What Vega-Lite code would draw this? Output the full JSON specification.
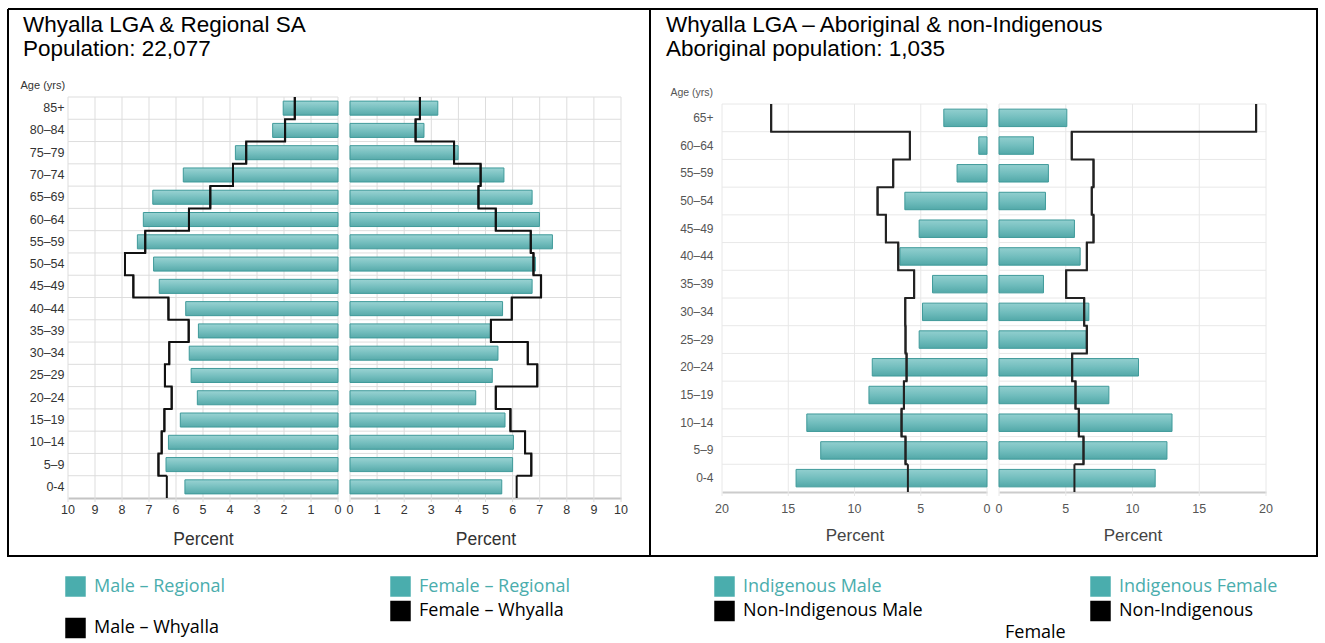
{
 "$schema": "https://vega.github.io/schema/vega-lite/v6.json",
 "background": "#ffffff",
 "padding": {"left": 7, "top": 8, "right": 0, "bottom": 0},
 "autosize": {"type": "pad"},
 "config": {"view": {"stroke": null}},
 "spacing": 0,
 "bounds": "flush",
 "resolve": {"scale": {"color": "independent", "x": "independent", "y": "independent"}, "legend": {"color": "independent"}},
 "datasets": {
  "reg": [
   {"age": "85+", "male_regional": 2.03, "male_whyalla": 1.60, "female_regional": 3.24, "female_whyalla": 2.58},
   {"age": "80–84", "male_regional": 2.42, "male_whyalla": 1.96, "female_regional": 2.73, "female_whyalla": 2.42},
   {"age": "75–79", "male_regional": 3.80, "male_whyalla": 3.40, "female_regional": 3.99, "female_whyalla": 3.84},
   {"age": "70–74", "male_regional": 5.73, "male_whyalla": 3.89, "female_regional": 5.68, "female_whyalla": 4.82},
   {"age": "65–69", "male_regional": 6.86, "male_whyalla": 4.73, "female_regional": 6.72, "female_whyalla": 4.74},
   {"age": "60–64", "male_regional": 7.21, "male_whyalla": 5.52, "female_regional": 6.99, "female_whyalla": 5.38},
   {"age": "55–59", "male_regional": 7.43, "male_whyalla": 7.14, "female_regional": 7.47, "female_whyalla": 6.67},
   {"age": "50–54", "male_regional": 6.83, "male_whyalla": 7.89, "female_regional": 6.84, "female_whyalla": 6.77},
   {"age": "45–49", "male_regional": 6.62, "male_whyalla": 7.58, "female_regional": 6.72, "female_whyalla": 7.05},
   {"age": "40–44", "male_regional": 5.64, "male_whyalla": 6.28, "female_regional": 5.63, "female_whyalla": 5.97},
   {"age": "35–39", "male_regional": 5.17, "male_whyalla": 5.53, "female_regional": 5.18, "female_whyalla": 5.20},
   {"age": "30–34", "male_regional": 5.51, "male_whyalla": 6.25, "female_regional": 5.46, "female_whyalla": 6.56},
   {"age": "25–29", "male_regional": 5.44, "male_whyalla": 6.41, "female_regional": 5.25, "female_whyalla": 6.91},
   {"age": "20–24", "male_regional": 5.21, "male_whyalla": 6.16, "female_regional": 4.64, "female_whyalla": 5.38},
   {"age": "15–19", "male_regional": 5.84, "male_whyalla": 6.43, "female_regional": 5.72, "female_whyalla": 5.92},
   {"age": "10–14", "male_regional": 6.28, "male_whyalla": 6.53, "female_regional": 6.03, "female_whyalla": 6.46},
   {"age": "5–9", "male_regional": 6.37, "male_whyalla": 6.65, "female_regional": 6.00, "female_whyalla": 6.69},
   {"age": "0-4", "male_regional": 5.67, "male_whyalla": 6.34, "female_regional": 5.60, "female_whyalla": 6.15}
  ],
  "ind": [
   {"age": "65+", "male_indigenous": 3.26, "male_non_indigenous": 16.29, "female_indigenous": 5.08, "female_non_indigenous": 19.26},
   {"age": "60–64", "male_indigenous": 0.62, "male_non_indigenous": 5.82, "female_indigenous": 2.58, "female_non_indigenous": 5.45},
   {"age": "55–59", "male_indigenous": 2.26, "male_non_indigenous": 7.08, "female_indigenous": 3.70, "female_non_indigenous": 7.08},
   {"age": "50–54", "male_indigenous": 6.20, "male_non_indigenous": 8.26, "female_indigenous": 3.48, "female_non_indigenous": 6.95},
   {"age": "45–49", "male_indigenous": 5.12, "male_non_indigenous": 7.63, "female_indigenous": 5.65, "female_non_indigenous": 7.08},
   {"age": "40–44", "male_indigenous": 6.57, "male_non_indigenous": 6.70, "female_indigenous": 6.08, "female_non_indigenous": 6.58},
   {"age": "35–39", "male_indigenous": 4.11, "male_non_indigenous": 5.50, "female_indigenous": 3.33, "female_non_indigenous": 5.03},
   {"age": "30–34", "male_indigenous": 4.87, "male_non_indigenous": 6.17, "female_indigenous": 6.73, "female_non_indigenous": 6.38},
   {"age": "25–29", "male_indigenous": 5.12, "male_non_indigenous": 6.15, "female_indigenous": 6.53, "female_non_indigenous": 6.58},
   {"age": "20–24", "male_indigenous": 8.66, "male_non_indigenous": 6.07, "female_indigenous": 10.45, "female_non_indigenous": 5.48},
   {"age": "15–19", "male_indigenous": 8.91, "male_non_indigenous": 6.27, "female_indigenous": 8.23, "female_non_indigenous": 5.73},
   {"age": "10–14", "male_indigenous": 13.60, "male_non_indigenous": 6.45, "female_indigenous": 12.96, "female_non_indigenous": 5.98},
   {"age": "5–9", "male_indigenous": 12.55, "male_non_indigenous": 6.15, "female_indigenous": 12.58, "female_non_indigenous": 6.33},
   {"age": "0-4", "male_indigenous": 14.41, "male_non_indigenous": 5.97, "female_indigenous": 11.70, "female_non_indigenous": 5.65}
  ],
  "ticks10": [{"t": 0}, {"t": 1}, {"t": 2}, {"t": 3}, {"t": 4}, {"t": 5}, {"t": 6}, {"t": 7}, {"t": 8}, {"t": 9}, {"t": 10}],
  "ticks20": [{"t": 0}, {"t": 5}, {"t": 10}, {"t": 15}, {"t": 20}]
 },
 "hconcat": [
  {
   "width": 336, "height": 547,
   "view": {"stroke": "#000000", "strokeWidth": 2, "strokeDash": [336, 547, 883, 0]},
   "title": {"text": ["Whyalla LGA & Regional SA", "Population: 22,077"], "anchor": "start", "frame": "group", "orient": "top", "baseline": "top", "offset": -51, "dx": 15, "font": "Liberation Sans", "fontSize": 22.5, "fontWeight": "normal", "color": "#000000", "lineHeight": 24},
   "data": {"name": "reg"},
   "layer": [
    {
     "data": {"name": "ticks10"},
     "mark": {"type": "rule", "color": "#dddddd", "strokeWidth": 1, "y2Offset": 4},
     "encoding": {
      "x": {"field": "t", "type": "quantitative", "scale": {"domain": [0, 10], "range": [330, 60], "nice": false}, "axis": {"orient": "bottom", "offset": -58, "grid": false, "domain": true, "domainColor": "#c4c4c4", "domainWidth": 2, "ticks": false, "labels": false, "title": "Percent", "titleFont": "'Liberation Sans Narrow', 'Liberation Sans', sans-serif", "titleFontSize": 17.5, "titleFontWeight": "normal", "titleColor": "#333333", "titlePadding": 32}},
      "y": {"datum": "85+", "type": "nominal", "bandPosition": 0, "scale": {"domain": ["85+","80–84","75–79","70–74","65–69","60–64","55–59","50–54","45–49","40–44","35–39","30–34","25–29","20–24","15–19","10–14","5–9","0-4"], "range": [88, 489], "paddingInner": 0, "paddingOuter": 0}},
      "y2": {"datum": "0-4", "bandPosition": 1}
     }
    },
    {
     "data": {"name": "ticks10"},
     "mark": {"type": "text", "dy": 12, "baseline": "middle", "align": "center", "font": "'Liberation Sans Narrow', 'Liberation Sans', sans-serif", "fontSize": 12.5, "color": "#333333"},
     "encoding": {
      "x": {"field": "t", "type": "quantitative"},
      "y": {"datum": "0-4", "type": "nominal", "bandPosition": 1},
      "text": {"field": "t", "type": "quantitative", "format": "d"}
     }
    },
    {
     "mark": {"type": "rule", "color": "#dddddd", "strokeWidth": 1},
     "encoding": {
      "y": {"field": "age", "type": "nominal", "bandPosition": 0},
      "x": {"datum": 0, "type": "quantitative"},
      "x2": {"datum": 10}
     }
    },
    {
     "mark": {"type": "bar", "height": {"band": 0.63}, "fill": {"gradient": "linear", "x1": 0, "y1": 0, "x2": 0, "y2": 1, "stops": [{"offset": 0, "color": "#9ad3d3"}, {"offset": 0.55, "color": "#74bebe"}, {"offset": 1, "color": "#57aaaa"}]}, "stroke": "#3f9a9a", "strokeWidth": 1},
     "encoding": {
      "x": {"field": "male_regional", "type": "quantitative"},
      "y": {"field": "age", "type": "nominal", "axis": {"orient": "left", "offset": -60, "ticks": false, "domain": false, "grid": false, "labelFont": "'Liberation Sans Narrow', 'Liberation Sans', sans-serif", "labelFontSize": 12.5, "labelColor": "#333333", "labelPadding": 4, "title": "Age (yrs)", "titleAngle": 0, "titleAlign": "left", "titleBaseline": "middle", "titleX": -48, "titleY": 76, "titleFont": "'Liberation Sans Narrow', 'Liberation Sans', sans-serif", "titleFontSize": 11, "titleFontWeight": "normal", "titleColor": "#333333"}}
     }
    },
    {
     "mark": {"type": "line", "interpolate": "step-before", "color": "#111111", "strokeWidth": 2},
     "encoding": {
      "x": {"field": "male_whyalla", "type": "quantitative"},
      "y": {"field": "age", "type": "nominal", "bandPosition": 0, "sort": ["85+","80–84","75–79","70–74","65–69","60–64","55–59","50–54","45–49","40–44","35–39","30–34","25–29","20–24","15–19","10–14","5–9","0-4"]}
     }
    },
    {
     "mark": {"type": "rule", "color": "#111111", "strokeWidth": 2},
     "encoding": {
      "x": {"field": "male_whyalla", "type": "quantitative"},
      "y": {"field": "age", "type": "nominal", "bandPosition": 0},
      "y2": {"field": "age", "bandPosition": 1}
     }
    },
    {
     "data": {"values": [{"s": "Male – Regional"}, {"s": "Male – Whyalla"}]},
     "mark": {"type": "square", "opacity": 0},
     "encoding": {
      "color": {"field": "s", "type": "nominal", "scale": {"domain": ["Male – Regional", "Male – Whyalla"], "range": ["#4aadad", "#000000"]},
       "legend": {"orient": "none", "legendX": 57, "legendY": 567, "direction": "vertical", "title": null, "symbolType": "square", "symbolSize": 420, "symbolOpacity": 1, "symbolStrokeWidth": 0, "labelFont": "Open Sans", "labelFontSize": 18, "labelOffset": 8, "rowPadding": 20.5, "padding": 0, "labelLimit": 400,
        "encode": {"labels": {"update": {"fill": {"signal": "datum.index === 0 ? '#4aadad' : '#000000'"}}}}}}
     }
    }
   ]
  },
  {
   "width": 306, "height": 547,
   "view": {"stroke": "#000000", "strokeWidth": 2, "strokeDash": [1159, 547]},
   "data": {"name": "reg"},
   "layer": [
    {
     "data": {"name": "ticks10"},
     "mark": {"type": "rule", "color": "#dddddd", "strokeWidth": 1, "y2Offset": 4},
     "encoding": {
      "x": {"field": "t", "type": "quantitative", "scale": {"domain": [0, 10], "range": [6, 277], "nice": false}, "axis": {"orient": "bottom", "offset": -58, "grid": false, "domain": true, "domainColor": "#c4c4c4", "domainWidth": 2, "ticks": false, "labels": false, "title": "Percent", "titleFont": "'Liberation Sans Narrow', 'Liberation Sans', sans-serif", "titleFontSize": 17.5, "titleFontWeight": "normal", "titleColor": "#333333", "titlePadding": 32}},
      "y": {"datum": "85+", "type": "nominal", "bandPosition": 0, "axis": null, "scale": {"domain": ["85+","80–84","75–79","70–74","65–69","60–64","55–59","50–54","45–49","40–44","35–39","30–34","25–29","20–24","15–19","10–14","5–9","0-4"], "range": [88, 489], "paddingInner": 0, "paddingOuter": 0}},
      "y2": {"datum": "0-4", "bandPosition": 1}
     }
    },
    {
     "data": {"name": "ticks10"},
     "mark": {"type": "text", "dy": 12, "baseline": "middle", "align": "center", "font": "'Liberation Sans Narrow', 'Liberation Sans', sans-serif", "fontSize": 12.5, "color": "#333333"},
     "encoding": {
      "x": {"field": "t", "type": "quantitative"},
      "y": {"datum": "0-4", "type": "nominal", "bandPosition": 1, "axis": null},
      "text": {"field": "t", "type": "quantitative", "format": "d"}
     }
    },
    {
     "mark": {"type": "rule", "color": "#dddddd", "strokeWidth": 1},
     "encoding": {
      "y": {"field": "age", "type": "nominal", "bandPosition": 0, "axis": null},
      "x": {"datum": 0, "type": "quantitative"},
      "x2": {"datum": 10}
     }
    },
    {
     "mark": {"type": "bar", "height": {"band": 0.63}, "fill": {"gradient": "linear", "x1": 0, "y1": 0, "x2": 0, "y2": 1, "stops": [{"offset": 0, "color": "#9ad3d3"}, {"offset": 0.55, "color": "#74bebe"}, {"offset": 1, "color": "#57aaaa"}]}, "stroke": "#3f9a9a", "strokeWidth": 1},
     "encoding": {
      "x": {"field": "female_regional", "type": "quantitative"},
      "y": {"field": "age", "type": "nominal", "axis": null}
     }
    },
    {
     "mark": {"type": "line", "interpolate": "step-before", "color": "#111111", "strokeWidth": 2},
     "encoding": {
      "x": {"field": "female_whyalla", "type": "quantitative"},
      "y": {"field": "age", "type": "nominal", "bandPosition": 0, "axis": null, "sort": ["85+","80–84","75–79","70–74","65–69","60–64","55–59","50–54","45–49","40–44","35–39","30–34","25–29","20–24","15–19","10–14","5–9","0-4"]}
     }
    },
    {
     "mark": {"type": "rule", "color": "#111111", "strokeWidth": 2},
     "encoding": {
      "x": {"field": "female_whyalla", "type": "quantitative"},
      "y": {"field": "age", "type": "nominal", "bandPosition": 0, "axis": null},
      "y2": {"field": "age", "bandPosition": 1}
     }
    },
    {
     "data": {"values": [{"s": "Female – Regional"}, {"s": "Female – Whyalla"}]},
     "mark": {"type": "square", "opacity": 0},
     "encoding": {
      "color": {"field": "s", "type": "nominal", "scale": {"domain": ["Female – Regional", "Female – Whyalla"], "range": ["#4aadad", "#000000"]},
       "legend": {"orient": "none", "legendX": 46, "legendY": 567, "direction": "vertical", "title": null, "symbolType": "square", "symbolSize": 420, "symbolOpacity": 1, "symbolStrokeWidth": 0, "labelFont": "Open Sans", "labelFontSize": 18, "labelOffset": 8, "rowPadding": 3.5, "padding": 0, "labelLimit": 400,
        "encode": {"labels": {"update": {"fill": {"signal": "datum.index === 0 ? '#4aadad' : '#000000'"}}}}}}
     }
    }
   ]
  },
  {
   "width": 343, "height": 547,
   "view": {"stroke": "#000000", "strokeWidth": 2, "strokeDash": [343, 547, 343, 547]},
   "title": {"text": ["Whyalla LGA – Aboriginal & non-Indigenous", "Aboriginal population: 1,035"], "anchor": "start", "frame": "group", "orient": "top", "baseline": "top", "offset": -51, "dx": 16, "font": "Liberation Sans", "fontSize": 22.5, "fontWeight": "normal", "color": "#000000", "lineHeight": 24},
   "data": {"name": "ind"},
   "layer": [
    {
     "data": {"name": "ticks20"},
     "mark": {"type": "rule", "color": "#e8e8e8", "strokeWidth": 1, "y2Offset": 4},
     "encoding": {
      "x": {"field": "t", "type": "quantitative", "scale": {"domain": [0, 20], "range": [337, 72], "nice": false}, "axis": {"orient": "bottom", "offset": -64, "grid": false, "domain": true, "domainColor": "#cccccc", "domainWidth": 2, "ticks": false, "labels": false, "title": "Percent", "titleFont": "'Liberation Sans Narrow', 'Liberation Sans', sans-serif", "titleFontSize": 17, "titleFontWeight": "normal", "titleColor": "#444444", "titlePadding": 35}},
      "y": {"datum": "65+", "type": "nominal", "bandPosition": 0, "scale": {"domain": ["65+","60–64","55–59","50–54","45–49","40–44","35–39","30–34","25–29","20–24","15–19","10–14","5–9","0-4"], "range": [95, 483], "paddingInner": 0, "paddingOuter": 0}},
      "y2": {"datum": "0-4", "bandPosition": 1}
     }
    },
    {
     "data": {"name": "ticks20"},
     "mark": {"type": "text", "dy": 17, "baseline": "middle", "align": "center", "font": "'Liberation Sans Narrow', 'Liberation Sans', sans-serif", "fontSize": 12.5, "color": "#555555"},
     "encoding": {
      "x": {"field": "t", "type": "quantitative"},
      "y": {"datum": "0-4", "type": "nominal", "bandPosition": 1},
      "text": {"field": "t", "type": "quantitative", "format": "d"}
     }
    },
    {
     "mark": {"type": "rule", "color": "#e8e8e8", "strokeWidth": 1},
     "encoding": {
      "y": {"field": "age", "type": "nominal", "bandPosition": 0},
      "x": {"datum": 0, "type": "quantitative"},
      "x2": {"datum": 20}
     }
    },
    {
     "mark": {"type": "bar", "height": {"band": 0.63}, "fill": {"gradient": "linear", "x1": 0, "y1": 0, "x2": 0, "y2": 1, "stops": [{"offset": 0, "color": "#92cfcf"}, {"offset": 0.55, "color": "#6fbcbc"}, {"offset": 1, "color": "#52a8a8"}]}, "stroke": "#3f9a9a", "strokeWidth": 1},
     "encoding": {
      "x": {"field": "male_indigenous", "type": "quantitative"},
      "y": {"field": "age", "type": "nominal", "axis": {"orient": "left", "offset": -72, "ticks": false, "domain": false, "grid": false, "labelFont": "'Liberation Sans Narrow', 'Liberation Sans', sans-serif", "labelFontSize": 12, "labelColor": "#555555", "labelPadding": 9, "title": "Age (yrs)", "titleAngle": 0, "titleAlign": "left", "titleBaseline": "middle", "titleX": -52, "titleY": 83, "titleFont": "'Liberation Sans Narrow', 'Liberation Sans', sans-serif", "titleFontSize": 10.5, "titleFontWeight": "normal", "titleColor": "#555555"}}
     }
    },
    {
     "mark": {"type": "line", "interpolate": "step-before", "color": "#222222", "strokeWidth": 2},
     "encoding": {
      "x": {"field": "male_non_indigenous", "type": "quantitative"},
      "y": {"field": "age", "type": "nominal", "bandPosition": 0, "sort": ["65+","60–64","55–59","50–54","45–49","40–44","35–39","30–34","25–29","20–24","15–19","10–14","5–9","0-4"]}
     }
    },
    {
     "mark": {"type": "rule", "color": "#222222", "strokeWidth": 2},
     "encoding": {
      "x": {"field": "male_non_indigenous", "type": "quantitative"},
      "y": {"field": "age", "type": "nominal", "bandPosition": 0},
      "y2": {"field": "age", "bandPosition": 1}
     }
    },
    {
     "data": {"values": [{"s": "Indigenous Male"}, {"s": "Non-Indigenous Male"}]},
     "mark": {"type": "square", "opacity": 0},
     "encoding": {
      "color": {"field": "s", "type": "nominal", "scale": {"domain": ["Indigenous Male", "Non-Indigenous Male"], "range": ["#4aadad", "#000000"]},
       "legend": {"orient": "none", "legendX": 64, "legendY": 567, "direction": "vertical", "title": null, "symbolType": "square", "symbolSize": 420, "symbolOpacity": 1, "symbolStrokeWidth": 0, "labelFont": "Open Sans", "labelFontSize": 18, "labelOffset": 8, "rowPadding": 3.5, "padding": 0, "labelLimit": 400,
        "encode": {"labels": {"update": {"fill": {"signal": "datum.index === 0 ? '#4aadad' : '#000000'"}}}}}}
     }
    }
   ]
  },
  {
   "width": 324, "height": 547,
   "view": {"stroke": "#000000", "strokeWidth": 2, "strokeDash": [1195, 547]},
   "data": {"name": "ind"},
   "layer": [
    {
     "data": {"name": "ticks20"},
     "mark": {"type": "rule", "color": "#e8e8e8", "strokeWidth": 1, "y2Offset": 4},
     "encoding": {
      "x": {"field": "t", "type": "quantitative", "scale": {"domain": [0, 20], "range": [6, 273], "nice": false}, "axis": {"orient": "bottom", "offset": -64, "grid": false, "domain": true, "domainColor": "#cccccc", "domainWidth": 2, "ticks": false, "labels": false, "title": "Percent", "titleFont": "'Liberation Sans Narrow', 'Liberation Sans', sans-serif", "titleFontSize": 17, "titleFontWeight": "normal", "titleColor": "#444444", "titlePadding": 35}},
      "y": {"datum": "65+", "type": "nominal", "bandPosition": 0, "axis": null, "scale": {"domain": ["65+","60–64","55–59","50–54","45–49","40–44","35–39","30–34","25–29","20–24","15–19","10–14","5–9","0-4"], "range": [95, 483], "paddingInner": 0, "paddingOuter": 0}},
      "y2": {"datum": "0-4", "bandPosition": 1}
     }
    },
    {
     "data": {"name": "ticks20"},
     "mark": {"type": "text", "dy": 17, "baseline": "middle", "align": "center", "font": "'Liberation Sans Narrow', 'Liberation Sans', sans-serif", "fontSize": 12.5, "color": "#555555"},
     "encoding": {
      "x": {"field": "t", "type": "quantitative"},
      "y": {"datum": "0-4", "type": "nominal", "bandPosition": 1, "axis": null},
      "text": {"field": "t", "type": "quantitative", "format": "d"}
     }
    },
    {
     "mark": {"type": "rule", "color": "#e8e8e8", "strokeWidth": 1},
     "encoding": {
      "y": {"field": "age", "type": "nominal", "bandPosition": 0, "axis": null},
      "x": {"datum": 0, "type": "quantitative"},
      "x2": {"datum": 20}
     }
    },
    {
     "mark": {"type": "bar", "height": {"band": 0.63}, "fill": {"gradient": "linear", "x1": 0, "y1": 0, "x2": 0, "y2": 1, "stops": [{"offset": 0, "color": "#92cfcf"}, {"offset": 0.55, "color": "#6fbcbc"}, {"offset": 1, "color": "#52a8a8"}]}, "stroke": "#3f9a9a", "strokeWidth": 1},
     "encoding": {
      "x": {"field": "female_indigenous", "type": "quantitative"},
      "y": {"field": "age", "type": "nominal", "axis": null}
     }
    },
    {
     "mark": {"type": "line", "interpolate": "step-before", "color": "#222222", "strokeWidth": 2},
     "encoding": {
      "x": {"field": "female_non_indigenous", "type": "quantitative"},
      "y": {"field": "age", "type": "nominal", "bandPosition": 0, "axis": null, "sort": ["65+","60–64","55–59","50–54","45–49","40–44","35–39","30–34","25–29","20–24","15–19","10–14","5–9","0-4"]}
     }
    },
    {
     "mark": {"type": "rule", "color": "#222222", "strokeWidth": 2},
     "encoding": {
      "x": {"field": "female_non_indigenous", "type": "quantitative"},
      "y": {"field": "age", "type": "nominal", "bandPosition": 0, "axis": null},
      "y2": {"field": "age", "bandPosition": 1}
     }
    },
    {
     "data": {"values": [{"s": "Indigenous Female"}, {"s": "Non-Indigenous"}]},
     "mark": {"type": "square", "opacity": 0},
     "encoding": {
      "color": {"field": "s", "type": "nominal", "scale": {"domain": ["Indigenous Female", "Non-Indigenous"], "range": ["#4aadad", "#000000"]},
       "legend": {"orient": "none", "legendX": 12, "legendY": 567, "direction": "vertical", "title": "Female", "titleOrient": "bottom", "titleAnchor": "start", "titlePadding": 3, "titleFont": "Open Sans", "titleFontSize": 18, "titleFontWeight": "normal", "titleColor": "#000000", "symbolType": "square", "symbolSize": 420, "symbolOpacity": 1, "symbolStrokeWidth": 0, "labelFont": "Open Sans", "labelFontSize": 18, "labelOffset": 8, "rowPadding": 3.5, "padding": 0, "labelLimit": 400,
        "encode": {"labels": {"update": {"fill": {"signal": "datum.index === 0 ? '#4aadad' : '#000000'"}}}, "title": {"update": {"dx": {"value": -85}}}}}}
     }
    }
   ]
  }
 ]
}
